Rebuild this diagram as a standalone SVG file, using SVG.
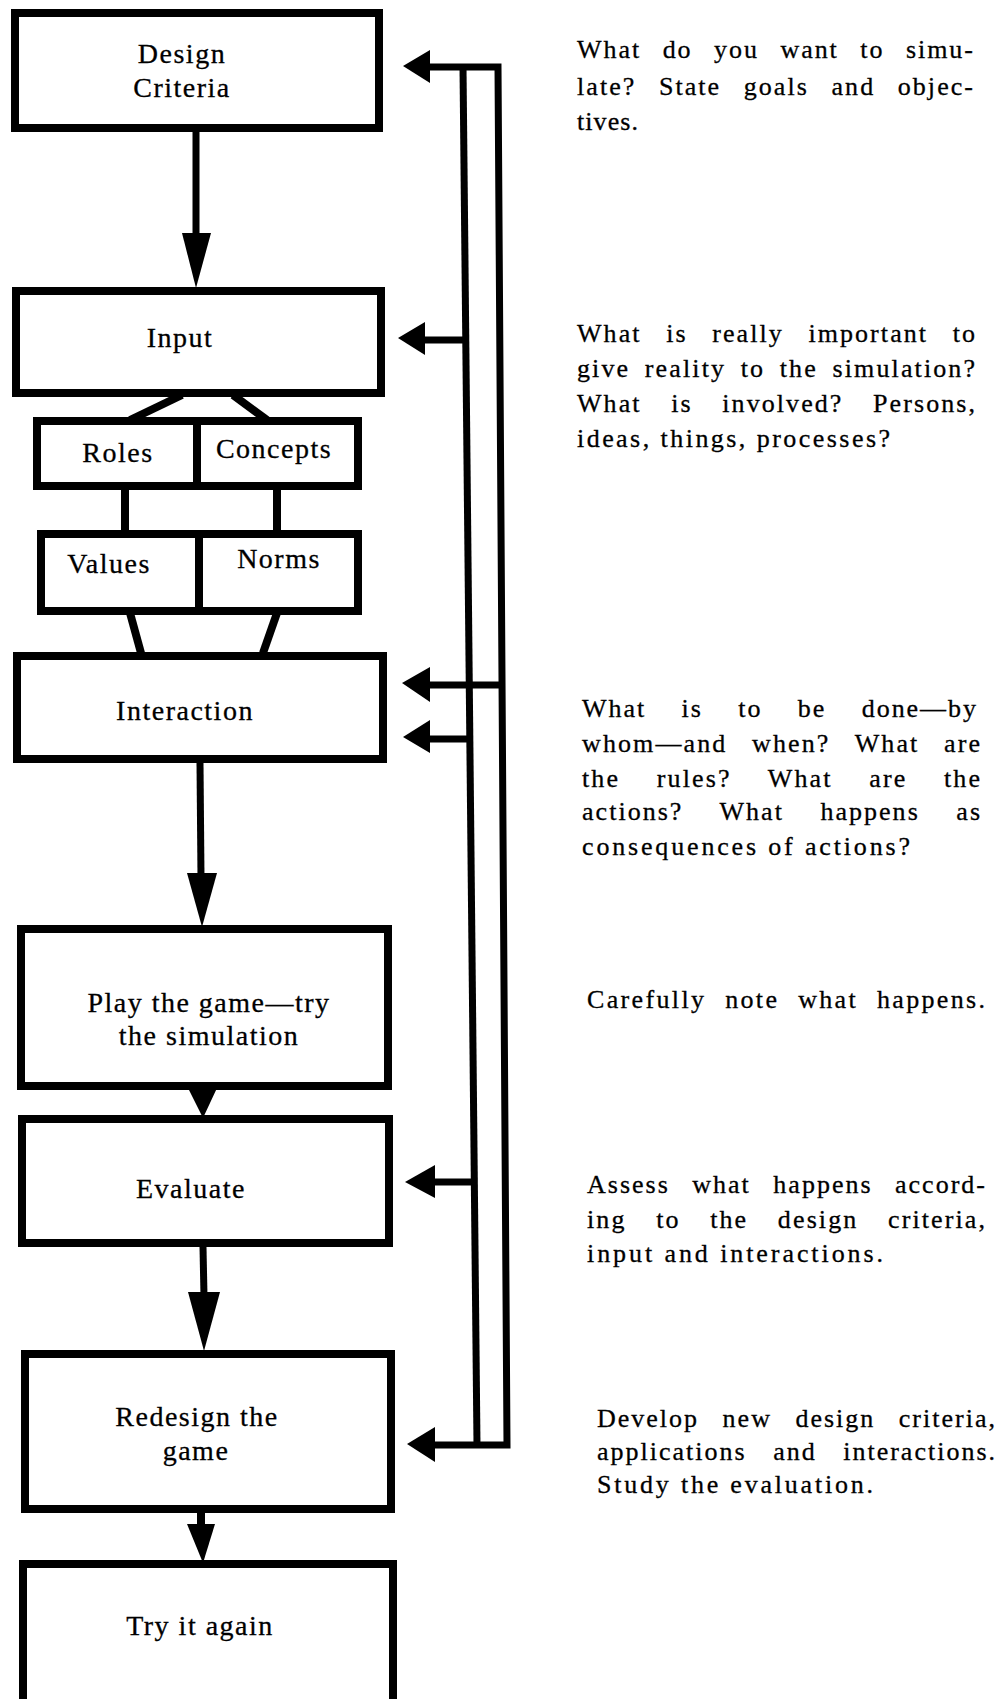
<svg xmlns="http://www.w3.org/2000/svg" width="1006" height="1699" viewBox="0 0 1006 1699">
<style>
  .box { fill: #ffffff; stroke: #000000; stroke-width: 8; stroke-linejoin: miter; }
  .div { stroke: #000000; stroke-width: 8; fill: none; }
  .ln { stroke: #000000; stroke-width: 7; fill: none; stroke-linejoin: miter; }
  .tie { stroke: #000000; stroke-width: 8; fill: none; }
  .head { fill: #000000; stroke: none; }
  .lbl { font-family: "Liberation Serif", "Times New Roman", serif; font-size: 28px; letter-spacing: 1.5px; text-anchor: middle; fill: #000000; stroke: #000000; stroke-width: 0.3px; }
  .note { font-family: "Liberation Serif", "Times New Roman", serif; font-size: 26px; letter-spacing: 2px; fill: #000000; stroke: #000000; stroke-width: 0.3px; }
</style>
<rect x="0" y="0" width="1006" height="1699" fill="#ffffff"/>

<g id="connectors">
  <!-- main flow -->
  <line class="ln" x1="196" y1="132" x2="196" y2="238"/>
  <polygon class="head" points="182,233 211,233 196,288"/>
  <line class="tie" x1="182" y1="395" x2="130" y2="420"/>
  <line class="tie" x1="233" y1="395" x2="267" y2="420"/>
  <line class="tie" x1="125" y1="489" x2="125" y2="533"/>
  <line class="tie" x1="277" y1="489" x2="277" y2="533"/>
  <line class="tie" x1="130" y1="613" x2="141" y2="653"/>
  <line class="tie" x1="277" y1="613" x2="263" y2="653"/>
  <line class="ln" x1="200" y1="763" x2="201" y2="878"/>
  <polygon class="head" points="187,873 217,873 202,927"/>
  <polygon class="head" points="188,1088 217,1088 203,1118"/>
  <line class="ln" x1="203" y1="1247" x2="204" y2="1296"/>
  <polygon class="head" points="188,1292 220,1292 204,1351"/>
  <line class="tie" x1="201" y1="1512" x2="201" y2="1528"/>
  <polygon class="head" points="187,1524 215,1524 203,1563"/>
  <!-- feedback loop -->
  <path class="ln" d="M428,67 H498 L507,1445 H433"/>
  <line class="ln" x1="463" y1="67" x2="477" y2="1445"/>
  <polygon class="head" points="403,66 430,50 430,83"/>
  <line class="ln" x1="423" y1="340" x2="466" y2="340"/>
  <polygon class="head" points="398,338 425,322 425,355"/>
  <line class="ln" x1="428" y1="685" x2="502" y2="685"/>
  <polygon class="head" points="402,683 430,667 430,702"/>
  <line class="ln" x1="428" y1="739" x2="470" y2="739"/>
  <polygon class="head" points="403,737 430,720 430,753"/>
  <line class="ln" x1="433" y1="1182" x2="474" y2="1182"/>
  <polygon class="head" points="405,1182 435,1165 435,1198"/>
  <polygon class="head" points="407,1444 435,1427 435,1462"/>
</g>

<g id="design-criteria">
  <rect class="box" x="15" y="13" width="364" height="115"/>
  <text class="lbl" x="182" y="63">Design</text>
  <text class="lbl" x="182" y="97">Criteria</text>
</g>
<g id="input">
  <rect class="box" x="16" y="291" width="365" height="102"/>
  <text class="lbl" x="180" y="347">Input</text>
</g>
<g id="roles-concepts">
  <rect class="box" x="37" y="421" width="321" height="65"/>
  <line class="div" x1="197" y1="421" x2="197" y2="486"/>
  <text class="lbl" x="118" y="462">Roles</text>
  <text class="lbl" x="274" y="458">Concepts</text>
</g>
<g id="values-norms">
  <rect class="box" x="41" y="534" width="317" height="77"/>
  <line class="div" x1="199" y1="534" x2="199" y2="611"/>
  <text class="lbl" x="109" y="573">Values</text>
  <text class="lbl" x="279" y="568">Norms</text>
</g>
<g id="interaction">
  <rect class="box" x="17" y="656" width="366" height="103"/>
  <text class="lbl" x="185" y="720">Interaction</text>
</g>
<g id="play">
  <rect class="box" x="21" y="929" width="367" height="157"/>
  <text class="lbl" x="209" y="1012">Play the game—try</text>
  <text class="lbl" x="209" y="1045">the simulation</text>
</g>
<g id="evaluate">
  <rect class="box" x="22" y="1119" width="367" height="124"/>
  <text class="lbl" x="191" y="1198">Evaluate</text>
</g>
<g id="redesign">
  <rect class="box" x="25" y="1354" width="366" height="155"/>
  <text class="lbl" x="197" y="1426">Redesign the</text>
  <text class="lbl" x="196" y="1460">game</text>
</g>
<g id="try-again">
  <rect class="box" x="23" y="1564" width="370" height="200"/>
  <text class="lbl" x="200" y="1635">Try it again</text>
</g>

<g id="notes">
  <g id="note-design">
    <text class="note" x="577" y="58" textLength="398" lengthAdjust="spacing" style="word-spacing:13px">What do you want to simu-</text>
    <text class="note" x="577" y="95" textLength="398" lengthAdjust="spacing" style="word-spacing:14px">late? State goals and objec-</text>
    <text class="note" x="577" y="130" textLength="63" lengthAdjust="spacing">tives.</text>
  </g>
  <g id="note-input">
    <text class="note" x="577" y="342" textLength="400" lengthAdjust="spacing" style="word-spacing:16px">What is really important to</text>
    <text class="note" x="577" y="377" textLength="400" lengthAdjust="spacing" style="word-spacing:6px">give reality to the simulation?</text>
    <text class="note" x="577" y="412" textLength="400" lengthAdjust="spacing" style="word-spacing:21px">What is involved? Persons,</text>
    <text class="note" x="577" y="447" textLength="315" lengthAdjust="spacing">ideas, things, processes?</text>
  </g>
  <g id="note-interaction">
    <text class="note" x="582" y="717" textLength="396" lengthAdjust="spacing" style="word-spacing:27px">What is to be done—by</text>
    <text class="note" x="582" y="752" textLength="400" lengthAdjust="spacing" style="word-spacing:16px">whom—and when? What are</text>
    <text class="note" x="582" y="787" textLength="400" lengthAdjust="spacing" style="word-spacing:28px">the rules? What are the</text>
    <text class="note" x="582" y="820" textLength="400" lengthAdjust="spacing" style="word-spacing:28px">actions? What happens as</text>
    <text class="note" x="582" y="855" textLength="330" lengthAdjust="spacing">consequences of actions?</text>
  </g>
  <g id="note-play">
    <text class="note" x="587" y="1008" textLength="400" lengthAdjust="spacing" style="word-spacing:10px">Carefully note what happens.</text>
  </g>
  <g id="note-evaluate">
    <text class="note" x="587" y="1193" textLength="400" lengthAdjust="spacing" style="word-spacing:14px">Assess what happens accord-</text>
    <text class="note" x="587" y="1228" textLength="400" lengthAdjust="spacing" style="word-spacing:21px">ing to the design criteria,</text>
    <text class="note" x="587" y="1262" textLength="298" lengthAdjust="spacing">input and interactions.</text>
  </g>
  <g id="note-redesign">
    <text class="note" x="597" y="1427" textLength="400" lengthAdjust="spacing" style="word-spacing:15px">Develop new design criteria,</text>
    <text class="note" x="597" y="1460" textLength="400" lengthAdjust="spacing" style="word-spacing:18px">applications and interactions.</text>
    <text class="note" x="597" y="1493" textLength="278" lengthAdjust="spacing">Study the evaluation.</text>
  </g>
</g>
</svg>
